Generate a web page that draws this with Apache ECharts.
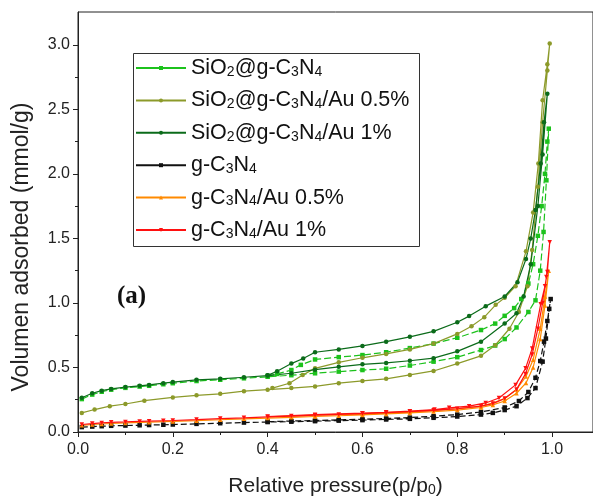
<!DOCTYPE html>
<html><head><meta charset="utf-8">
<script src="https://cdn.jsdelivr.net/npm/echarts@6/dist/echarts.min.js"></script>
<style>html,body{margin:0;padding:0;background:#fff}#c{width:593px;height:502px}</style>
</head><body><div id="c"></div>
<script>
// ---- names / legend labels ----
const seriesNames = ['SiO2@g-C3N4','SiO2@g-C3N4/Au 0.5%','SiO2@g-C3N4/Au 1%','g-C3N4','g-C3N4/Au 0.5%','g-C3N4/Au 1%'];
const legendRich = ['SiO{s|2}@g-C{s|3}N{s|4}','SiO{s|2}@g-C{s|3}N{s|4}/Au 0.5%','SiO{s|2}@g-C{s|3}N{s|4}/Au 1%','g-C{s|3}N{s|4}','g-C{s|3}N{s|4}/Au 0.5%','g-C{s|3}N{s|4}/Au 1%'];

// ---- tick values ----
const xMajorTicks = [0, 0.2, 0.4, 0.6, 0.8, 1.0];
const xMinorTicks = [0.1, 0.3, 0.5, 0.7, 0.9];
const yMajorTicks = [0, 0.5, 1.0, 1.5, 2.0, 2.5, 3.0];
const yMinorTicks = [0.25, 0.75, 1.25, 1.75, 2.25, 2.75];

// ---- SiO2@g-C3N4 (bright green) ----
const sio2Ads = [[0.008,0.255],[0.03,0.29],[0.05,0.312],[0.07,0.328],[0.1,0.342],[0.13,0.352],[0.15,0.358],[0.18,0.37],[0.2,0.378],[0.25,0.395],[0.3,0.405],[0.35,0.416],[0.4,0.428],[0.45,0.44],[0.5,0.455],[0.55,0.468],[0.6,0.48],[0.65,0.49],[0.7,0.515],[0.75,0.545],[0.8,0.58],[0.85,0.635],[0.88,0.67],[0.9,0.72],[0.925,0.81],[0.95,0.93],[0.965,1.02],[0.975,1.25],[0.982,1.55],[0.988,1.95],[0.993,2.35]];
const sio2Des = [[0.99,2.25],[0.985,2.0],[0.978,1.75],[0.97,1.52],[0.96,1.3],[0.95,1.15],[0.935,1.03],[0.92,0.96],[0.9,0.9],[0.88,0.84],[0.85,0.79],[0.8,0.73],[0.75,0.685],[0.7,0.65],[0.65,0.618],[0.6,0.596],[0.55,0.58],[0.5,0.562],[0.47,0.52],[0.45,0.48],[0.42,0.45],[0.4,0.435]];

// ---- SiO2@g-C3N4/Au 0.5% (olive) ----
const sio2Au05Ads = [[0.008,0.148],[0.035,0.174],[0.067,0.2],[0.1,0.217],[0.14,0.243],[0.2,0.268],[0.25,0.284],[0.3,0.296],[0.35,0.316],[0.4,0.328],[0.45,0.34],[0.5,0.353],[0.55,0.378],[0.6,0.396],[0.65,0.412],[0.7,0.442],[0.75,0.473],[0.8,0.53],[0.85,0.59],[0.88,0.672],[0.91,0.8],[0.93,0.93],[0.948,1.13],[0.958,1.41],[0.97,1.9],[0.98,2.4],[0.99,2.8],[0.995,3.01]];
const sio2Au05Des = [[0.99,2.85],[0.98,2.57],[0.971,2.08],[0.96,1.7],[0.945,1.4],[0.923,1.13],[0.9,1.04],[0.881,0.985],[0.857,0.89],[0.83,0.82],[0.8,0.76],[0.75,0.685],[0.7,0.64],[0.65,0.605],[0.6,0.575],[0.55,0.54],[0.5,0.493],[0.474,0.442],[0.446,0.378],[0.41,0.34]];

// ---- SiO2@g-C3N4/Au 1% (dark green) ----
const sio2Au1Ads = [[0.008,0.265],[0.03,0.3],[0.05,0.32],[0.07,0.334],[0.1,0.348],[0.13,0.358],[0.15,0.365],[0.18,0.378],[0.2,0.387],[0.25,0.404],[0.3,0.412],[0.35,0.424],[0.4,0.437],[0.45,0.455],[0.5,0.483],[0.55,0.505],[0.6,0.524],[0.65,0.535],[0.7,0.552],[0.75,0.572],[0.8,0.625],[0.85,0.7],[0.9,0.84],[0.925,0.92],[0.94,1.05],[0.955,1.3],[0.97,1.75],[0.98,2.15],[0.99,2.62]];
const sio2Au1Des = [[0.983,2.4],[0.976,2.08],[0.965,1.72],[0.955,1.5],[0.945,1.34],[0.927,1.16],[0.9,1.05],[0.86,0.975],[0.825,0.898],[0.8,0.85],[0.75,0.78],[0.7,0.737],[0.65,0.7],[0.6,0.667],[0.55,0.64],[0.5,0.618],[0.475,0.57],[0.45,0.53],[0.42,0.47],[0.4,0.44]];

// ---- g-C3N4 (black) ----
const gcnAds = [[0.008,0.038],[0.03,0.042],[0.05,0.045],[0.07,0.048],[0.1,0.05],[0.13,0.052],[0.15,0.054],[0.18,0.056],[0.2,0.058],[0.25,0.063],[0.3,0.068],[0.35,0.073],[0.4,0.077],[0.45,0.08],[0.5,0.084],[0.55,0.088],[0.6,0.092],[0.65,0.097],[0.7,0.102],[0.75,0.11],[0.8,0.12],[0.85,0.135],[0.875,0.148],[0.9,0.17],[0.925,0.2],[0.948,0.263],[0.965,0.34],[0.98,0.545],[0.987,0.724],[0.994,0.954],[0.997,1.03]];
const gcnDes = [[0.99,0.86],[0.983,0.7],[0.975,0.55],[0.965,0.42],[0.95,0.31],[0.93,0.24],[0.9,0.19],[0.85,0.155],[0.8,0.135],[0.75,0.122],[0.7,0.112],[0.65,0.105],[0.6,0.099],[0.55,0.094],[0.5,0.089],[0.45,0.085],[0.4,0.08]];

// ---- g-C3N4/Au 0.5% (orange) ----
const gcnAu05Ads = [[0.008,0.052],[0.03,0.058],[0.05,0.062],[0.07,0.066],[0.1,0.07],[0.15,0.076],[0.2,0.082],[0.25,0.088],[0.3,0.095],[0.35,0.102],[0.4,0.108],[0.45,0.114],[0.5,0.12],[0.55,0.126],[0.6,0.132],[0.65,0.14],[0.7,0.148],[0.75,0.158],[0.8,0.17],[0.85,0.19],[0.875,0.21],[0.9,0.24],[0.925,0.3],[0.945,0.38],[0.96,0.5],[0.975,0.72],[0.985,0.98],[0.993,1.25]];
const gcnAu05Des = [[0.985,1.05],[0.975,0.8],[0.96,0.56],[0.945,0.43],[0.925,0.33],[0.9,0.26],[0.875,0.225],[0.85,0.2],[0.8,0.18],[0.7,0.158],[0.6,0.142],[0.5,0.13],[0.4,0.118]];

// ---- g-C3N4/Au 1% (red) ----
const gcnAu1Ads = [[0.008,0.058],[0.03,0.065],[0.05,0.07],[0.07,0.075],[0.1,0.078],[0.13,0.082],[0.15,0.084],[0.18,0.087],[0.2,0.089],[0.25,0.096],[0.3,0.104],[0.35,0.11],[0.4,0.117],[0.45,0.123],[0.5,0.13],[0.55,0.136],[0.6,0.143],[0.65,0.15],[0.7,0.158],[0.75,0.168],[0.8,0.18],[0.85,0.2],[0.875,0.22],[0.9,0.26],[0.925,0.33],[0.944,0.45],[0.958,0.6],[0.97,0.8],[0.98,1.0],[0.988,1.2],[0.995,1.47]];
const gcnAu1Des = [[0.99,1.24],[0.985,1.13],[0.976,0.99],[0.958,0.647],[0.944,0.493],[0.923,0.365],[0.888,0.263],[0.86,0.225],[0.825,0.2],[0.783,0.187],[0.752,0.174],[0.7,0.161],[0.65,0.153],[0.6,0.146],[0.5,0.134],[0.4,0.12]];

const seriesData = [
  sio2Ads.concat(sio2Des),
  sio2Au05Ads.concat(sio2Au05Des),
  sio2Au1Ads.concat(sio2Au1Des),
  gcnAds.concat(gcnDes),
  gcnAu05Ads.concat(gcnAu05Des),
  gcnAu1Ads.concat(gcnAu1Des)
];
const colors = ['#1cc21c','#8c9a2a','#0b6b1a','#111111','#ff8a00','#ff1010'];
const symbols = ['rect','circle','circle','rect','triangle','triangle'];
const rotates = [0,0,0,0,0,180];
const dashes = [[7,3],'solid','solid',[6,3],'solid','solid'];

const FONT = '"Liberation Sans", Arial, sans-serif';
const chart = echarts.init(document.getElementById('c'), null, {renderer:'canvas'});

const series = seriesNames.map((n,i)=>({
  name:n, type:'line', xAxisIndex:0, yAxisIndex:0,
  data: seriesData[i],
  symbol: symbols[i], symbolRotate: rotates[i], symbolSize: 4.5,
  showSymbol:true, animation:false,
  itemStyle:{color:colors[i]},
  lineStyle:{color:colors[i], width:1.2, type:dashes[i]},
  emphasis:{disabled:true}
}));

const Y_MAX = 3.254;
chart.setOption({
  animation:false,
  backgroundColor:'#fff',
  grid:{left:78, right:-1, top:12, bottom:64, show:true, borderColor:'#222', borderWidth:1, backgroundColor:'transparent'},
  xAxis:[{
    type:'value', min:0, max:1.0863, position:'bottom',
    axisLine:{show:true, lineStyle:{color:'#222', width:1}},
    axisTick:{show:true, inside:false, length:5, customValues:xMajorTicks, lineStyle:{color:'#222'}},
    axisLabel:{show:true, customValues:xMajorTicks, formatter:v=>v.toFixed(1), fontSize:16, fontFamily:FONT, color:'#222', margin:10},
    splitLine:{show:false},
    name:'Relative pressure(p/p{s|0})', nameLocation:'middle', nameGap:44,
    nameTextStyle:{fontSize:21, fontFamily:FONT, color:'#222', rich:{s:{fontSize:14, fontFamily:FONT, color:'#222', lineHeight:8, verticalAlign:'bottom'}}}
  },{
    type:'value', min:0, max:1.0863, position:'bottom',
    axisLine:{show:false}, axisLabel:{show:false}, splitLine:{show:false},
    axisTick:{show:true, inside:false, length:3, customValues:xMinorTicks, lineStyle:{color:'#222'}}
  }],
  yAxis:[{
    type:'value', min:0, max:Y_MAX, position:'left',
    axisLine:{show:true, lineStyle:{color:'#222', width:1}},
    axisTick:{show:true, inside:false, length:5, customValues:yMajorTicks, lineStyle:{color:'#222'}},
    axisLabel:{show:true, customValues:yMajorTicks, formatter:v=>v.toFixed(1), fontSize:16, fontFamily:FONT, color:'#222', margin:8},
    splitLine:{show:false}
  },{
    type:'value', min:0, max:Y_MAX, position:'left', offset:0,
    axisLine:{show:false}, axisLabel:{show:false}, splitLine:{show:false},
    axisTick:{show:true, inside:false, length:3, customValues:yMinorTicks, lineStyle:{color:'#222'}}
  }],
  legend:{
    show:true, orient:'vertical', left:135, top:57, padding:0,
    itemWidth:50, itemHeight:5, itemGap:10.4, selectedMode:false,
    data:seriesNames,
    lineStyle:{type:'solid'},
    formatter:(name)=>legendRich[seriesNames.indexOf(name)],
    textStyle:{fontSize:21.5, fontFamily:FONT, color:'#111', lineHeight:22,
      rich:{s:{fontSize:14, fontFamily:FONT, color:'#111', lineHeight:8, verticalAlign:'bottom'}}}
  },
  graphic:[
    {type:'rect', shape:{x:133.5, y:53.5, width:286, height:193}, style:{fill:'none', stroke:'#333', lineWidth:1}, silent:true, z:100},
    {type:'text', x:117, y:297, style:{text:'(a)', font:'bold 25px "Liberation Serif", "Times New Roman", serif', fill:'#111', textVerticalAlign:'middle'}, silent:true},
    {type:'text', x:22, y:247, rotation:Math.PI/2, style:{text:'Volumen adsorbed (mmol/g)', font:'23px '+FONT, fill:'#222', textAlign:'center', textVerticalAlign:'middle'}, silent:true}
  ],
  series: series
});
</script>
</body></html>
